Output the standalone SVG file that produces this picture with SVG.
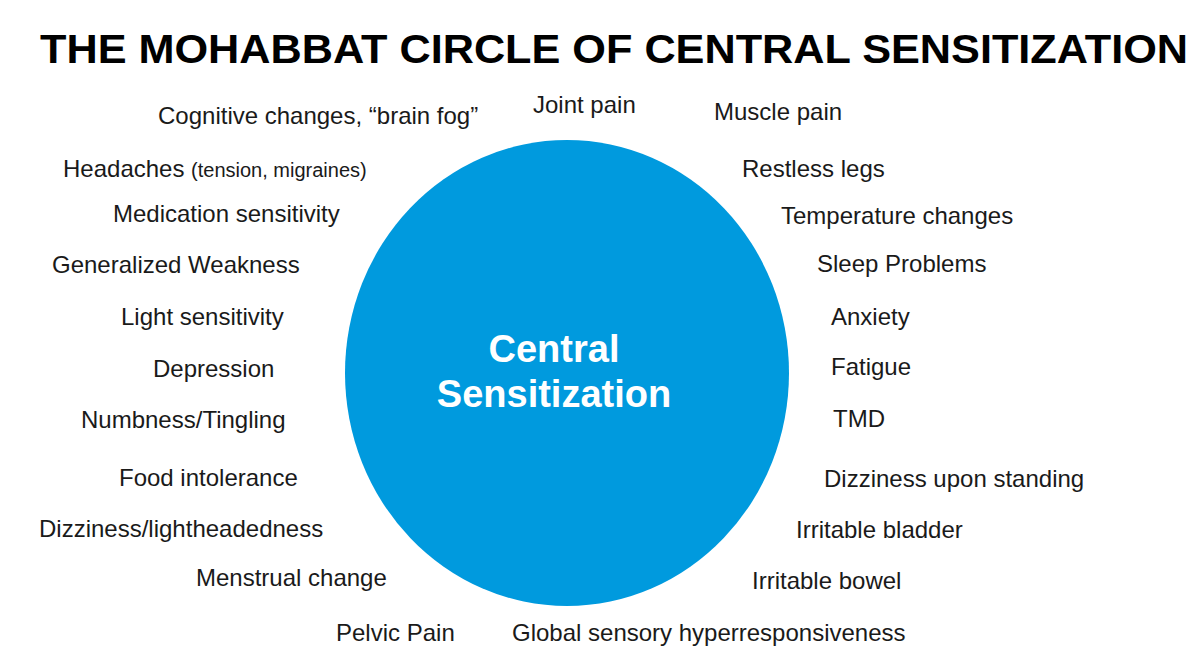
<svg xmlns="http://www.w3.org/2000/svg" width="1200" height="669" viewBox="0 0 1200 669">
<style>
.t{font-family:"Liberation Sans",Arial,sans-serif;font-size:24px;fill:#1a1a1a}
.s{font-size:20px}
.c{font-family:"Liberation Sans",Arial,sans-serif;font-size:38px;font-weight:bold;fill:#fff;text-anchor:middle}
</style>
<rect width="1200" height="669" fill="#fff"/>
<text x="40" y="63" font-family="Liberation Sans,Arial,sans-serif" font-weight="bold" font-size="40" fill="#000" textLength="1148" lengthAdjust="spacingAndGlyphs">THE MOHABBAT CIRCLE OF CENTRAL SENSITIZATION</text>
<ellipse cx="567" cy="373" rx="222" ry="233" fill="#009ADE"/>
<text class="c" x="554" y="362">Central</text>
<text class="c" x="554" y="407">Sensitization</text>
<g class="t">
<text class="t" x="533" y="113">Joint pain</text>
<text class="t" x="714" y="120">Muscle pain</text>
<text class="t" x="158" y="124">Cognitive changes, “brain fog”</text>
<text class="t" x="63" y="177">Headaches <tspan class="s">(tension, migraines)</tspan></text>
<text class="t" x="742" y="177">Restless legs</text>
<text class="t" x="113" y="222">Medication sensitivity</text>
<text class="t" x="781" y="224">Temperature changes</text>
<text class="t" x="52" y="273">Generalized Weakness</text>
<text class="t" x="817" y="272">Sleep Problems</text>
<text class="t" x="121" y="325">Light sensitivity</text>
<text class="t" x="831" y="325">Anxiety</text>
<text class="t" x="153" y="377">Depression</text>
<text class="t" x="831" y="375">Fatigue</text>
<text class="t" x="81" y="428">Numbness/Tingling</text>
<text class="t" x="833" y="427">TMD</text>
<text class="t" x="119" y="486">Food intolerance</text>
<text class="t" x="824" y="487">Dizziness upon standing</text>
<text class="t" x="39" y="537">Dizziness/lightheadedness</text>
<text class="t" x="796" y="538">Irritable bladder</text>
<text class="t" x="196" y="586">Menstrual change</text>
<text class="t" x="752" y="589">Irritable bowel</text>
<text class="t" x="336" y="641">Pelvic Pain</text>
<text class="t" x="512" y="641">Global sensory hyperresponsiveness</text>
</g>
</svg>
